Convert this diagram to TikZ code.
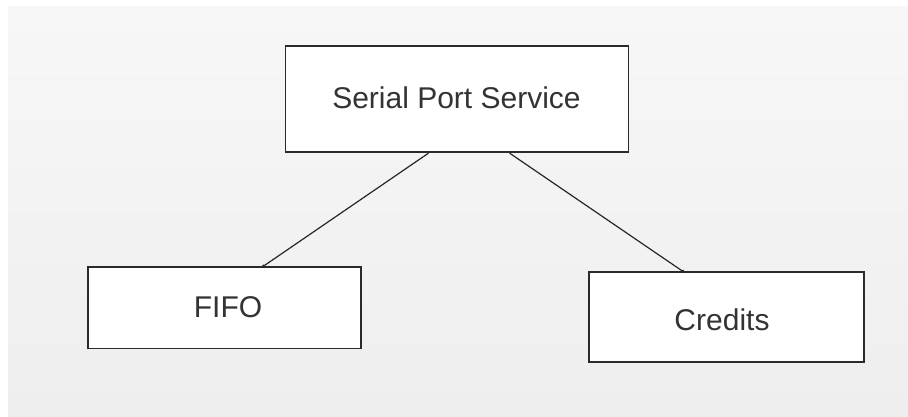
\documentclass[tikz,border=0pt]{standalone}
\usepackage{fontspec}
\setmainfont{Liberation Sans}
\definecolor{bgtop}{HTML}{F7F7F7}
\definecolor{bgbot}{HTML}{EEEEEE}
\definecolor{boxline}{HTML}{2A2A2A}
\definecolor{txt}{HTML}{333333}
\begin{document}
\begin{tikzpicture}[x=1pt,y=-1pt,
  box/.style={draw=boxline, line width=1.7pt, fill=white, inner sep=0pt,
    font=\fontsize{30}{36}\selectfont, text=txt},
  link/.style={draw=black!85, line width=1.2pt},
  jdot/.style={circle, fill=black!85, inner sep=0pt, minimum size=3.5pt}]
\useasboundingbox (0,0) rectangle (908,417);
\fill[white] (0,0) rectangle (908,417);
\shade[top color=bgtop, bottom color=bgbot] (8,7) rectangle (908,417);
\node[box, minimum width=343pt, minimum height=106.6pt] (top) at (457,99) {};
\node[text=txt, font=\fontsize{30}{36}\selectfont] (toplbl) at (456.5,97.5) {Serial Port Service};
\node[box, minimum width=272.7pt, minimum height=81.3pt] (fifo) at (224.4,307.7) {};
\node[text=txt, font=\fontsize{30}{36}\selectfont] (fifolbl) at (228,307.5) {FIFO};
\node[box, minimum width=275pt, minimum height=89.4pt] (credits) at (726.5,317) {};
\node[text=txt, font=\fontsize{30}{36}\selectfont] (credlbl) at (722,319.5) {Credits};
\draw[link] ([xshift=-28.5pt]top.south) -- ([xshift=39pt]fifo.north);
\draw[link] ([xshift=52.6pt]top.south) -- ([xshift=-43.5pt]credits.north);
\node[jdot] (d1) at ([xshift=39pt]fifo.north) {};
\node[jdot] (d2) at ([xshift=-43.5pt]credits.north) {};
\end{tikzpicture}
\end{document}
